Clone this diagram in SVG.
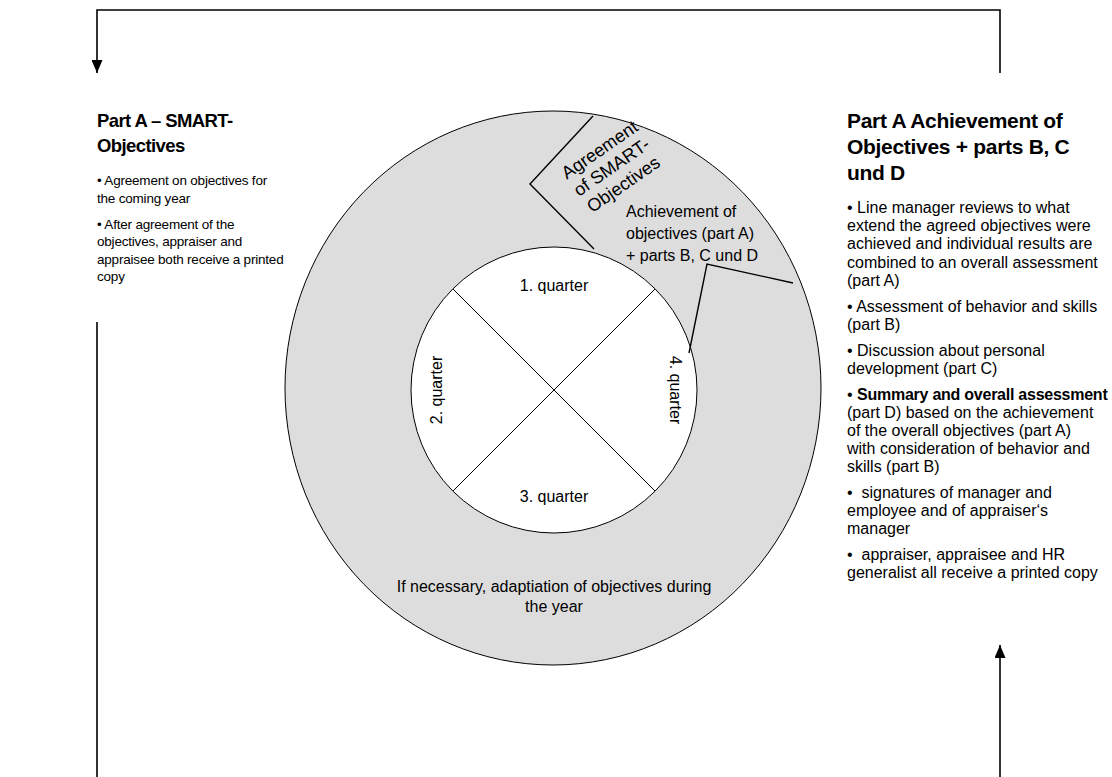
<svg xmlns="http://www.w3.org/2000/svg" width="1112" height="777" viewBox="0 0 1112 777">
  <style>
    .t { font-family: "Liberation Sans", Arial, sans-serif; fill: #000; }
    .head-l { font-size: 18.5px; font-weight: bold; letter-spacing: -0.6px; }
    .head-r { font-size: 21px; font-weight: bold; letter-spacing: -0.3px; }
    .body-l { font-size: 13.5px; letter-spacing: -0.2px; }
    .body-r { font-size: 16px; letter-spacing: 0px; }
    .em { font-weight: bold; letter-spacing: -0.25px; }
    .lbl { font-size: 16px; }
    .lbl-big { font-size: 18px; }
    .ring { fill: #dddddd; stroke: #000; stroke-width: 1; }
    .hub { fill: #ffffff; stroke: #000; stroke-width: 1; }
    .thin { fill: none; stroke: #000; stroke-width: 1; }
    .wedge { fill: none; stroke: #000; stroke-width: 1.4; }
    .conn { fill: none; stroke: #000; stroke-width: 1.6; }
  </style>
  <defs>
    <marker id="arrow" viewBox="0 0 13 11" refX="13" refY="5.5" markerWidth="13" markerHeight="11" markerUnits="userSpaceOnUse" orient="auto">
      <path d="M0,0 L13,5.5 L0,11 z" fill="#000"/>
    </marker>
  </defs>

  <rect width="1112" height="777" fill="#ffffff"/>

  <!-- connectors -->
  <g id="connectors">
    <path class="conn" d="M1000,73 V10 H97 V73" marker-end="url(#arrow)"/>
    <path class="conn" d="M97,322 V777"/>
    <path class="conn" d="M1000,777 V645" marker-end="url(#arrow)"/>
  </g>

  <!-- annual cycle -->
  <g id="cycle">
    <ellipse class="ring" cx="553" cy="388" rx="268" ry="277"/>
    <circle class="hub" cx="554" cy="390" r="143"/>
    <line class="thin" x1="453" y1="289" x2="655" y2="491"/>
    <line class="thin" x1="655" y1="289" x2="453" y2="491"/>
    <polyline class="wedge" points="593,116 530,184 594,249"/>
    <polyline class="wedge" points="793,283 707,264 689,353"/>

    <text class="t lbl" x="554" y="291" text-anchor="middle">1. quarter</text>
    <text class="t lbl" x="554" y="502" text-anchor="middle">3. quarter</text>
    <text class="t lbl" text-anchor="middle" transform="translate(442,390) rotate(-90)">2. quarter</text>
    <text class="t lbl" text-anchor="middle" transform="translate(670,390) rotate(90)">4. quarter</text>

    <g transform="translate(615,172) rotate(-34.6)">
      <text class="t lbl-big" x="0" y="-21" text-anchor="middle">Agreement</text>
      <text class="t lbl-big" x="0" y="0" text-anchor="middle">of SMART-</text>
      <text class="t lbl-big" x="0" y="21" text-anchor="middle">Objectives</text>
    </g>

    <text class="t lbl" x="626" y="217">Achievement of</text>
    <text class="t lbl" x="626" y="239">objectives (part A)</text>
    <text class="t lbl" x="626" y="261">+ parts B, C und D</text>

    <text class="t lbl" x="554" y="592" text-anchor="middle">If necessary, adaptiation of objectives during</text>
    <text class="t lbl" x="554" y="612" text-anchor="middle">the year</text>
  </g>

  <!-- left panel -->
  <g id="part-a-smart">
    <text class="t head-l" x="97" y="127">Part A – SMART-</text>
    <text class="t head-l" x="97" y="152">Objectives</text>
    <text class="t body-l" x="97" y="185">• Agreement on objectives for</text>
    <text class="t body-l" x="97" y="203">the coming year</text>
    <text class="t body-l" x="97" y="229">• After agreement of the</text>
    <text class="t body-l" x="97" y="246">objectives, appraiser and</text>
    <text class="t body-l" x="97" y="264">appraisee both receive a printed</text>
    <text class="t body-l" x="97" y="281">copy</text>
  </g>

  <!-- right panel -->
  <g id="part-a-achievement">
    <text class="t head-r" x="847" y="128">Part A Achievement of</text>
    <text class="t head-r" x="847" y="154">Objectives + parts B, C</text>
    <text class="t head-r" x="847" y="180">und D</text>
    <text class="t body-r" x="847" y="213">• Line manager reviews to what</text>
    <text class="t body-r" x="847" y="231">extend the agreed objectives were</text>
    <text class="t body-r" x="847" y="249">achieved and individual results are</text>
    <text class="t body-r" x="847" y="268">combined to an overall assessment</text>
    <text class="t body-r" x="847" y="286">(part A)</text>
    <text class="t body-r" x="847" y="312">• Assessment of behavior and skills</text>
    <text class="t body-r" x="847" y="330">(part B)</text>
    <text class="t body-r" x="847" y="356">• Discussion about personal</text>
    <text class="t body-r" x="847" y="374">development (part C)</text>
    <text class="t body-r" x="847" y="400">• <tspan class="em">Summary and overall assessment</tspan></text>
    <text class="t body-r" x="847" y="418">(part D) based on the achievement</text>
    <text class="t body-r" x="847" y="436">of the overall objectives (part A)</text>
    <text class="t body-r" x="847" y="454">with consideration of behavior and</text>
    <text class="t body-r" x="847" y="472">skills (part B)</text>
    <text class="t body-r" x="847" y="498" xml:space="preserve">•  signatures of manager and</text>
    <text class="t body-r" x="847" y="516">employee and of appraiser‘s</text>
    <text class="t body-r" x="847" y="534">manager</text>
    <text class="t body-r" x="847" y="560" xml:space="preserve">•  appraiser, appraisee and HR</text>
    <text class="t body-r" x="847" y="578">generalist all receive a printed copy</text>
  </g>
</svg>
